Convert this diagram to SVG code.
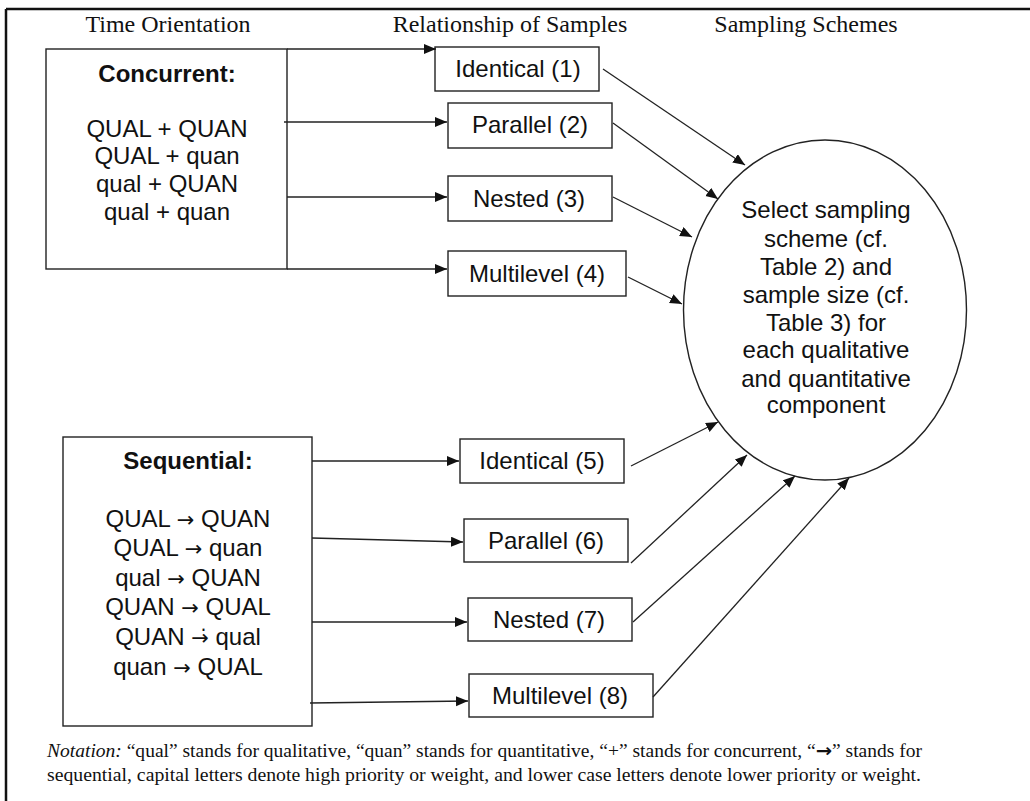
<svg xmlns="http://www.w3.org/2000/svg" width="1030" height="801" viewBox="0 0 1030 801">
<style>
.hdr{font-family:"Liberation Serif","Times New Roman",serif;font-size:24px;fill:#111;text-anchor:middle}
.t{font-family:"Liberation Sans",Arial,sans-serif;font-size:24px;fill:#111;text-anchor:middle}
.b{font-weight:bold}
.ar{font-family:"DejaVu Sans",sans-serif;font-size:21px}
.box{fill:#fff;stroke:#222;stroke-width:1.4}
.con line{stroke:#222;stroke-width:1.3;fill:none}
.note{font-family:"Liberation Serif","Times New Roman",serif;font-size:18px;fill:#111}
</style>
<defs>
<marker id="ah" markerUnits="userSpaceOnUse" markerWidth="13" markerHeight="11" refX="12" refY="5" orient="auto">
<path d="M0,0 L12,5 L0,10 z" fill="#111"/>
</marker>
</defs>
<rect width="1030" height="801" fill="#fff"/>
<g id="frame">
<line x1="6" y1="9" x2="1030" y2="9" stroke="#111" stroke-width="2.5"/>
<line x1="6" y1="9" x2="6" y2="801" stroke="#111" stroke-width="2.5"/>
</g>
<g id="headers">
<text class="hdr" x="168" y="32">Time Orientation</text>
<text class="hdr" x="510" y="32">Relationship of Samples</text>
<text class="hdr" x="806" y="32">Sampling Schemes</text>
</g>
<g id="concurrent">
<rect class="box" x="46" y="49" width="241" height="220"/>
<text class="t b" x="167" y="82">Concurrent:</text>
<text class="t" x="167" y="137">QUAL + QUAN</text>
<text class="t" x="167" y="164">QUAL + quan</text>
<text class="t" x="167" y="192">qual + QUAN</text>
<text class="t" x="167" y="220">qual + quan</text>
</g>
<g id="sequential">
<rect class="box" x="63" y="437" width="249" height="289"/>
<text class="t b" x="188" y="469">Sequential:</text>
<text class="t" x="188" y="527">QUAL <tspan class="ar">→</tspan> QUAN</text>
<text class="t" x="188" y="556">QUAL <tspan class="ar">→</tspan> quan</text>
<text class="t" x="188" y="586">qual <tspan class="ar">→</tspan> QUAN</text>
<text class="t" x="188" y="615">QUAN <tspan class="ar">→</tspan> QUAL</text>
<text class="t" x="188" y="645">QUAN <tspan class="ar">→̇</tspan> qual</text>
<text class="t" x="188" y="675">quan <tspan class="ar">→</tspan> QUAL</text>
</g>
<g id="identical1"><rect class="box" x="435" y="47" width="164" height="44"/><text class="t" x="518" y="77">Identical (1)</text></g>
<g id="parallel2"><rect class="box" x="448" y="103" width="164" height="45"/><text class="t" x="530" y="133">Parallel (2)</text></g>
<g id="nested3"><rect class="box" x="448" y="176" width="164" height="45"/><text class="t" x="529" y="207">Nested (3)</text></g>
<g id="multilevel4"><rect class="box" x="448" y="251" width="178" height="45"/><text class="t" x="537" y="282">Multilevel (4)</text></g>
<g id="identical5"><rect class="box" x="460" y="439" width="164" height="44"/><text class="t" x="542" y="469">Identical (5)</text></g>
<g id="parallel6"><rect class="box" x="464" y="519" width="164" height="43"/><text class="t" x="546" y="549">Parallel (6)</text></g>
<g id="nested7"><rect class="box" x="468" y="598" width="164" height="43"/><text class="t" x="549" y="628">Nested (7)</text></g>
<g id="multilevel8"><rect class="box" x="469" y="674" width="184" height="43"/><text class="t" x="560" y="704">Multilevel (8)</text></g>
<g id="scheme">
<ellipse cx="825" cy="310" rx="141.5" ry="170" fill="#fff" stroke="#222" stroke-width="1.4"/>
<text class="t" x="826" y="218">Select sampling</text>
<text class="t" x="826" y="247">scheme (cf.</text>
<text class="t" x="826" y="275">Table 2) and</text>
<text class="t" x="826" y="303">sample size (cf.</text>
<text class="t" x="826" y="331">Table 3) for</text>
<text class="t" x="826" y="358">each qualitative</text>
<text class="t" x="826" y="387">and quantitative</text>
<text class="t" x="826" y="413">component</text>
</g>
<g id="connectors" class="con">
<line x1="287" y1="49" x2="436" y2="49" marker-end="url(#ah)"/>
<line x1="284" y1="122" x2="447" y2="122" marker-end="url(#ah)"/>
<line x1="287" y1="197" x2="447" y2="197" marker-end="url(#ah)"/>
<line x1="287" y1="269" x2="447" y2="269" marker-end="url(#ah)"/>
<line x1="312" y1="461" x2="459" y2="461" marker-end="url(#ah)"/>
<line x1="312" y1="538" x2="463" y2="542" marker-end="url(#ah)"/>
<line x1="312" y1="622" x2="467" y2="622" marker-end="url(#ah)"/>
<line x1="310" y1="703" x2="468" y2="701" marker-end="url(#ah)"/>
<line x1="603" y1="69" x2="745" y2="165" marker-end="url(#ah)"/>
<line x1="613" y1="123" x2="718" y2="199" marker-end="url(#ah)"/>
<line x1="613" y1="197" x2="692" y2="237" marker-end="url(#ah)"/>
<line x1="628" y1="277" x2="682" y2="304" marker-end="url(#ah)"/>
<line x1="631" y1="466" x2="718" y2="422" marker-end="url(#ah)"/>
<line x1="631" y1="563" x2="747" y2="455" marker-end="url(#ah)"/>
<line x1="633" y1="622" x2="795" y2="476" marker-end="url(#ah)"/>
<line x1="653" y1="697" x2="849" y2="478" marker-end="url(#ah)"/>
</g>
<g id="notation">
<text class="note" x="47" y="757" textLength="875" lengthAdjust="spacingAndGlyphs"><tspan font-style="italic">Notation:</tspan> “qual” stands for qualitative, “quan” stands for quantitative, “+” stands for concurrent, “<tspan font-weight="bold" font-family="'DejaVu Sans',sans-serif">→</tspan>” stands for</text>
<text class="note" x="47" y="781" textLength="874" lengthAdjust="spacingAndGlyphs">sequential, capital letters denote high priority or weight, and lower case letters denote lower priority or weight.</text>
</g>
</svg>
